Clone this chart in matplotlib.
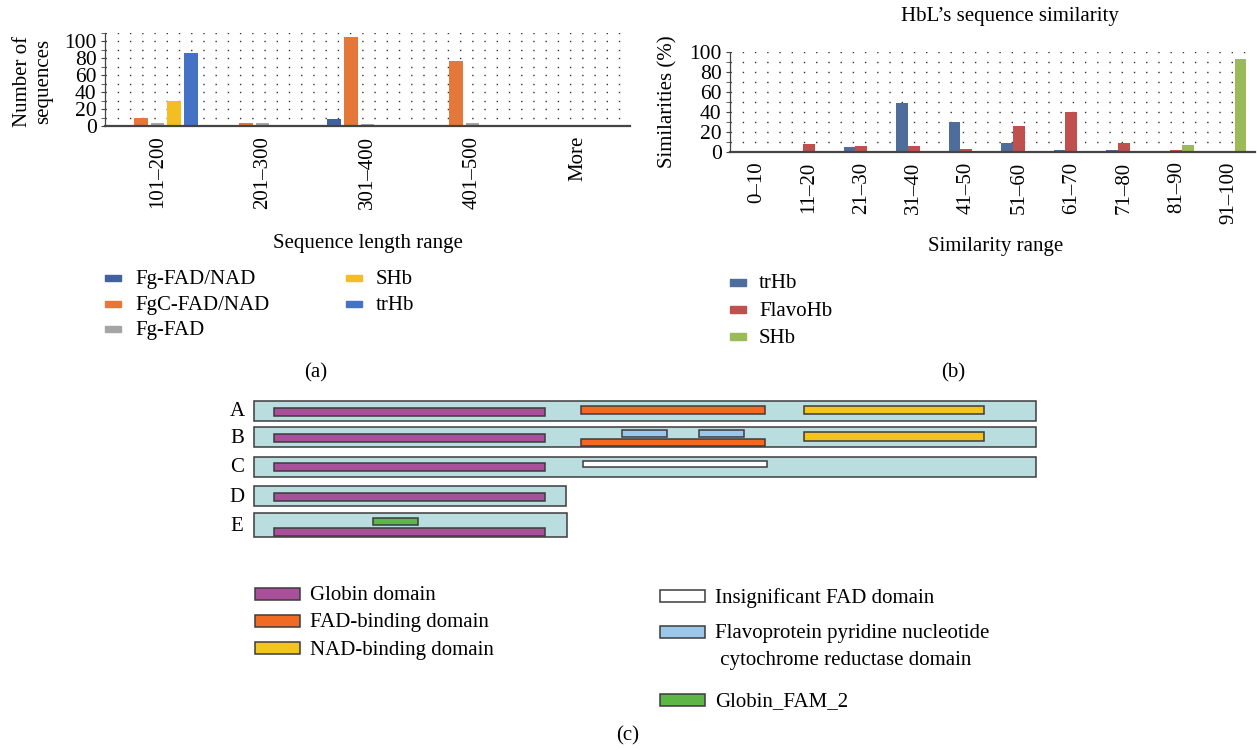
import matplotlib
matplotlib.use('Agg')
import matplotlib.pyplot as plt
from matplotlib.patches import Rectangle
import numpy as np

plt.rcParams['font.family'] = ['Liberation Serif', 'DejaVu Serif']

W, H = 1257, 750
FS = 15

# ---------------- Panel (a) data ----------------
len_categories = ['101–200', '201–300', '301–400', '401–500', 'More']
len_series = ['Fg-FAD/NAD', 'FgC-FAD/NAD', 'Fg-FAD', 'SHb', 'trHb']
fg_fad_nad = [0, 0, 8.5, 1.5, 0]
fgc_fad_nad = [10, 3.5, 105, 77, 0]
fg_fad = [3.5, 3.5, 2, 3.5, 0]
shb_len = [29, 0, 0, 0, 0]
trhb_len = [86, 0, 0, 0, 0]
len_colors = ['#41619f', '#e3783a', '#a5a5a5', '#f4bd21', '#4472c4']

# ---------------- Panel (b) data ----------------
sim_categories = ['0–10', '11–20', '21–30', '31–40', '41–50',
                  '51–60', '61–70', '71–80', '81–90', '91–100']
sim_series = ['trHb', 'FlavoHb', 'SHb']
trhb_sim = [0, 0.6, 5, 49, 30, 9, 2, 2, 1, 0]
flavohb_sim = [0, 8, 6, 6, 3, 26, 40, 9, 2, 1]
shb_sim = [0, 0, 0, 0, 0, 0, 0, 0, 7, 93]
sim_colors = ['#4f6d9a', '#c0504d', '#9bbb59']

# ---------------- Panel (c) data ----------------
proteins = ['A', 'B', 'C', 'D', 'E']
protein_lengths = [782, 782, 782, 312, 313]
domain_names = ['Globin domain', 'FAD-binding domain', 'NAD-binding domain',
                'Insignificant FAD domain',
                'Flavoprotein pyridine nucleotide\n cytochrome reductase domain',
                'Globin_FAM_2']
domain_colors = ['#a8509a', '#f06a23', '#f2c41c', '#ffffff', '#9dc7ea', '#5cb746']
# (protein, domain index, start, end, lane)
domains = [
    ('A', 0, 20, 291, 'mid'), ('A', 1, 327, 511, 'up'), ('A', 2, 550, 730, 'up'),
    ('B', 0, 20, 291, 'mid'), ('B', 4, 368, 413, 'top'), ('B', 4, 445, 490, 'top'),
    ('B', 1, 327, 511, 'low'), ('B', 2, 550, 730, 'up'),
    ('C', 0, 20, 291, 'mid'), ('C', 3, 329, 513, 'up'),
    ('D', 0, 20, 291, 'mid'),
    ('E', 0, 20, 291, 'low'), ('E', 5, 119, 164, 'top'),
]

fig = plt.figure(figsize=(W / 100, H / 100), dpi=100)


def frect(l, t, r, b):
    return [l / W, 1 - b / H, (r - l) / W, (b - t) / H]


def fx(x):
    return x / W


def fy(y):
    return 1 - y / H


def style_axes(ax):
    for s in ['top', 'right']:
        ax.spines[s].set_visible(False)
    ax.spines['left'].set_color('#444444')
    ax.spines['left'].set_linewidth(0.9)
    ax.spines['bottom'].set_color('#444444')
    ax.spines['bottom'].set_linewidth(1.6)
    ax.set_axisbelow(True)
    ax.grid(axis='y', which='both', color='#333333', linewidth=1.0,
            linestyle=(0, (1, 7.8)))
    ax.tick_params(axis='x', length=0, pad=7, labelsize=FS, labelrotation=90)
    ax.tick_params(axis='y', which='both', direction='out', length=3,
                   color='#444444', labelsize=FS + 0.5, pad=3)


# ---------------- Panel (a) ----------------
axA = fig.add_axes(frect(105, 32.5, 630, 126))
xa = np.arange(len(len_categories))
len_values = [fg_fad_nad, fgc_fad_nad, fg_fad, shb_len, trhb_len]
step_a, bw_a = 0.159, 0.133
for i, (vals, c) in enumerate(zip(len_values, len_colors)):
    axA.bar(xa + (i - 2) * step_a, vals, bw_a, color=c, linewidth=0)
axA.set_xlim(-0.5, len(len_categories) - 0.5)
axA.set_ylim(0, 110)
axA.set_yticks(range(0, 101, 20))
axA.set_yticks(range(10, 111, 20), minor=True)
axA.set_xticks(xa)
axA.set_xticklabels(len_categories)
style_axes(axA)

fig.text(fx(33), fy(81), 'Number of\nsequences', rotation=90, ha='center',
         va='center', fontsize=FS, multialignment='center')
fig.text(fx(368), fy(244), 'Sequence length range', ha='center', va='center',
         fontsize=FS)

# legend (a) : 2 columns
leg_a_pos = [(105, 278), (105, 303.5), (105, 329), (346, 278), (346, 303.5)]
for (lx, ly), name, c in zip(leg_a_pos, len_series, len_colors):
    fig.patches.append(Rectangle((fx(lx), fy(ly + 3)), 16 / W, 6 / H,
                                 transform=fig.transFigure, color=c))
    fig.text(fx(lx + 30), fy(ly + 1.5), name, ha='left', va='center', fontsize=FS)
fig.text(fx(316), fy(373), '(a)', ha='center', va='center', fontsize=FS)

# ---------------- Panel (b) ----------------
axB = fig.add_axes(frect(730, 52.3, 1255, 151.7))
xb = np.arange(len(sim_categories))
sim_values = [trhb_sim, flavohb_sim, shb_sim]
step_b, bw_b = 0.223, 0.223
for i, (vals, c) in enumerate(zip(sim_values, sim_colors)):
    axB.bar(xb + (i - 1) * step_b, vals, bw_b, color=c, linewidth=0)
axB.set_xlim(-0.5, len(sim_categories) - 0.5)
axB.set_ylim(0, 100)
axB.set_yticks(range(0, 101, 20))
axB.set_yticks(range(10, 100, 20), minor=True)
axB.set_xticks(xb)
axB.set_xticklabels(sim_categories)
style_axes(axB)

fig.text(fx(1010), fy(17), 'HbL’s sequence similarity', ha='center',
         va='center', fontsize=FS)
fig.text(fx(668), fy(102), 'Similarities (%)', rotation=90, ha='center',
         va='center', fontsize=FS)
fig.text(fx(996), fy(247), 'Similarity range', ha='center', va='center',
         fontsize=FS)

leg_b_pos = [(730, 282), (730, 309.5), (730, 337)]
for (lx, ly), name, c in zip(leg_b_pos, sim_series, sim_colors):
    fig.patches.append(Rectangle((fx(lx), fy(ly + 3.5)), 16 / W, 7 / H,
                                 transform=fig.transFigure, color=c))
    fig.text(fx(lx + 29), fy(ly + 1.5), name, ha='left', va='center', fontsize=FS)
fig.text(fx(953), fy(373), '(b)', ha='center', va='center', fontsize=FS)

# ---------------- Panel (c) ----------------
axC = fig.add_axes([0, 0, 1, 1], zorder=-1)
axC.set_xlim(0, W)
axC.set_ylim(H, 0)
axC.axis('off')

row_x0 = 254
row_tops = [400.7, 427.3, 456.7, 486, 513.3]
row_heights = [20, 20, 20, 20, 24]
edge = '#3c3c3c'
# lane: (centre offset from row top, height)
lanes = {
    ('A', 'mid'): (11.3, 8), ('A', 'up'): (9.3, 8),
    ('B', 'mid'): (10.5, 8), ('B', 'top'): (6.0, 6.7), ('B', 'low'): (15.0, 7.3),
    ('B', 'up'): (9.2, 8.4),
    ('C', 'mid'): (10.3, 8), ('C', 'up'): (7.3, 6.7),
    ('D', 'mid'): (10.7, 8),
    ('E', 'low'): (18.4, 8), ('E', 'top'): (8.4, 6.7),
}

for name, length, top, h in zip(proteins, protein_lengths, row_tops, row_heights):
    axC.add_patch(Rectangle((row_x0, top), length, h, facecolor='#badde0',
                            edgecolor=edge, linewidth=1.1))
    axC.text(237, top + h / 2 + 1, name, ha='center', va='center', fontsize=FS)

for prot, di, s, e, lane in domains:
    r = proteins.index(prot)
    top = row_tops[r]
    off, dh = lanes[(prot, lane)]
    cy = top + off
    axC.add_patch(Rectangle((row_x0 + s, cy - dh / 2), e - s, dh,
                            facecolor=domain_colors[di], edgecolor=edge,
                            linewidth=1.1))

# legend (c)
leg_c_pos = [(255, 594), (255, 621), (255, 648), (660, 596), (660, 632), (660, 700)]
for (lx, ly), name, c in zip(leg_c_pos, domain_names, domain_colors):
    axC.add_patch(Rectangle((lx, ly - 6), 45, 12, facecolor=c, edgecolor=edge,
                            linewidth=1.1))
    if '\n' in name:
        axC.text(lx + 55, ly - 8, name, ha='left', va='top',
                 fontsize=FS, linespacing=1.6)
    else:
        axC.text(lx + 55, ly + 2, name, ha='left', va='center', fontsize=FS)
axC.text(628, 736, '(c)', ha='center', va='center', fontsize=FS)

fig.savefig('out.png', dpi=100)
